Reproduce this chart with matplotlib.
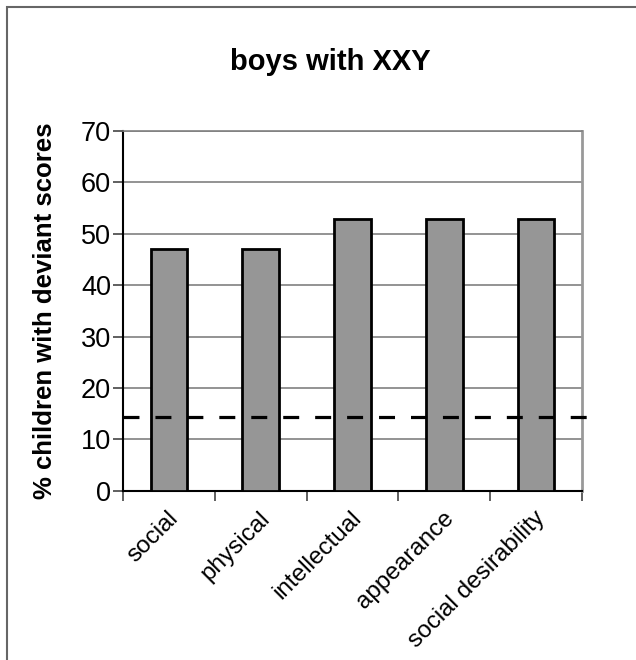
import matplotlib
matplotlib.use("Agg")
import matplotlib.pyplot as plt
from matplotlib.patches import Rectangle
import numpy as np

plt.rcParams['font.family'] = ['Liberation Sans', 'DejaVu Sans']

categories = ["social", "physical", "intellectual", "appearance", "social desirability"]
values = [47.06, 47.06, 52.94, 52.94, 52.94]
reference_level = 14.4
yticks = [0, 10, 20, 30, 40, 50, 60, 70]

fig = plt.figure(figsize=(6.36, 6.60), dpi=100)

# outer chart frame
fig.patches.append(Rectangle((7 / 636, -0.1), 1.2, 1 - 7 / 660 + 0.1,
                             transform=fig.transFigure, fill=False,
                             edgecolor='#666666', linewidth=1.5, zorder=0))

ax = fig.add_axes([123 / 636, 1 - 490.7 / 660, (582 - 123) / 636, (490.7 - 131) / 660])

x = np.arange(len(categories))
ax.bar(x, values, width=0.4, color='#969696', edgecolor='black', linewidth=2.0, zorder=3)

ax.plot([-0.5, 4.55], [reference_level, reference_level], color='black',
        linewidth=2.3, linestyle=(0, (5, 5)), zorder=4, clip_on=False)

ax.set_xlim(-0.5, 4.5)
ax.set_ylim(0, 70)
ax.set_yticks(yticks)
ax.set_yticklabels([str(t) for t in yticks], fontsize=19.5)
ax.yaxis.grid(True, color='#808080', linewidth=1.2, zorder=0)
ax.set_axisbelow(True)

ax.set_xticks(np.arange(-0.5, 5, 1.0))
ax.set_xticklabels([])
ax.set_xticks(x, minor=True)
ax.set_xticklabels(categories, minor=True, rotation=45, ha='right',
                   rotation_mode='anchor', fontsize=17.5)
ax.tick_params(axis='x', which='minor', length=0, pad=12)
ax.tick_params(axis='x', which='major', length=7, width=1.2, color='#444444')
ax.tick_params(axis='y', length=7, width=1.2, color='#444444', pad=1.5)

for lbl in ax.get_xticklabels(minor=True):
    lbl.set_transform(lbl.get_transform() +
                      matplotlib.transforms.ScaledTranslation(-2 / 100, 0, fig.dpi_scale_trans))

ax.spines['left'].set_color('black')
ax.spines['left'].set_linewidth(1.5)
ax.spines['bottom'].set_color('black')
ax.spines['bottom'].set_linewidth(1.5)
ax.spines['right'].set_color('#999999')
ax.spines['right'].set_linewidth(2)
ax.spines['top'].set_color('#808080')
ax.spines['top'].set_linewidth(1.2)

ax.set_ylabel("% children with deviant scores", fontsize=18.5, fontweight='bold', labelpad=17)

fig.text(330 / 636, 1 - 62 / 660, "boys with XXY", ha='center', va='center',
         fontsize=21, fontweight='bold')

fig.savefig("out.png", dpi=100)
